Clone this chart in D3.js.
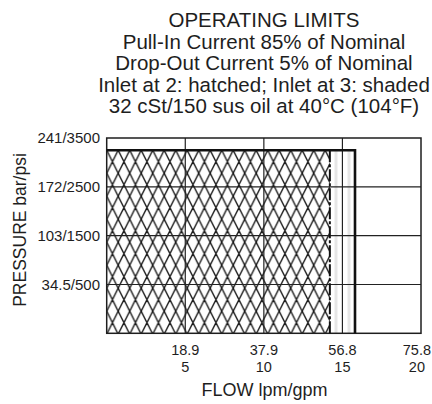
<!DOCTYPE html>
<html>
<head>
<meta charset="utf-8">
<script src="https://cdn.jsdelivr.net/npm/d3@7"></script>
<style>
  body { margin: 0; background: #fff; }
  text { font-family: "Liberation Sans", Arial, sans-serif; fill: #1e1e1e; }
</style>
</head>
<body>
<svg id="chart" width="432" height="404"></svg>
<script>
var titleLines = [
  "OPERATING LIMITS",
  "Pull-In Current 85% of Nominal",
  "Drop-Out Current 5% of Nominal",
  "Inlet at 2: hatched; Inlet at 3: shaded",
  "32 cSt/150 sus oil at 40\u00B0C (104\u00B0F)"
];

// flow axis, gpm with lpm label above
var flowTicksGpm = [5, 10, 15, 20];
var flowTicksLpm = ["18.9", "37.9", "56.8", "75.8"];

// pressure axis, psi with bar label in front
var pressTicksPsi = [500, 1500, 2500, 3500];
var pressTicksBar = ["34.5", "103", "172", "241"];

// operating envelopes: [max flow gpm, max pressure psi]
var inlet2Limit = [14.2, 3250];   // hatched
var inlet3Limit = [15.8, 3250];   // shaded

var svg = d3.select('#chart');
var W = 432;

var plot = { left: 106.7, right: 421, top: 138, bottom: 333.3 };

var x = d3.scaleLinear().domain([0, 20]).range([plot.left, plot.right]);
// the original chart leaves one full division under the 500 psi line
var y = d3.scaleLinear().domain([-500, 3500]).range([plot.bottom, plot.top]);

var defs = svg.append('defs');

// crosshatch used for inlet at 2
var hw = 11.5, hh = 23;
var hatch = defs.append('pattern')
    .attr('id', 'hatch')
    .attr('patternUnits', 'userSpaceOnUse')
    .attr('x', plot.left).attr('y', y(inlet2Limit[1]))
    .attr('width', hw).attr('height', hh);
hatch.append('rect').attr('width', hw).attr('height', hh).attr('fill', '#fff');
var hp = '';
[-1, 0, 1].forEach(function(i) {
  [-1, 0, 1].forEach(function(j) {
    var ox = i * hw, oy = j * hh;
    hp += 'M' + ox + ',' + oy + 'L' + (ox + hw) + ',' + (oy + hh);
    hp += 'M' + (ox + hw) + ',' + oy + 'L' + ox + ',' + (oy + hh);
  });
});
hatch.append('path').attr('d', hp)
    .attr('stroke', '#1a1a1a').attr('stroke-width', 1.4).attr('fill', 'none');

// faint vertical stripes used for inlet at 3
var stripes = defs.append('pattern')
    .attr('id', 'stripes')
    .attr('patternUnits', 'userSpaceOnUse')
    .attr('x', 334.5).attr('y', 0)
    .attr('width', 13).attr('height', 10);
stripes.append('rect').attr('width', 13).attr('height', 10).attr('fill', '#fff');
stripes.append('rect').attr('width', 3).attr('height', 10).attr('fill', '#e6e6e6');

// shaded envelope first, hatched on top of it
svg.append('rect')
    .attr('x', x(0)).attr('y', y(inlet3Limit[1]))
    .attr('width', x(inlet3Limit[0]) - x(0))
    .attr('height', y(-500) - y(inlet3Limit[1]))
    .attr('fill', 'url(#stripes)');

svg.append('rect')
    .attr('x', x(0)).attr('y', y(inlet2Limit[1]))
    .attr('width', x(inlet2Limit[0]) - x(0))
    .attr('height', y(-500) - y(inlet2Limit[1]))
    .attr('fill', 'url(#hatch)');

// grid
svg.selectAll('line.vgrid')
    .data(flowTicksGpm.slice(0, -1))
  .enter().append('line')
    .attr('class', 'vgrid')
    .attr('x1', function(d) { return x(d); }).attr('x2', function(d) { return x(d); })
    .attr('y1', plot.top).attr('y2', plot.bottom)
    .attr('stroke', '#222').attr('stroke-width', 1.2);

svg.selectAll('line.hgrid')
    .data(pressTicksPsi.slice(0, -1))
  .enter().append('line')
    .attr('class', 'hgrid')
    .attr('x1', plot.left).attr('x2', plot.right)
    .attr('y1', function(d) { return y(d); }).attr('y2', function(d) { return y(d); })
    .attr('stroke', '#222').attr('stroke-width', 1.2);

// frame
svg.append('rect')
    .attr('x', plot.left).attr('y', plot.top)
    .attr('width', plot.right - plot.left).attr('height', plot.bottom - plot.top)
    .attr('fill', 'none').attr('stroke', '#1e1e1e').attr('stroke-width', 1.5);

// inlet 2 right edge (broken line)
svg.append('line')
    .attr('x1', x(inlet2Limit[0])).attr('x2', x(inlet2Limit[0]))
    .attr('y1', y(inlet2Limit[1])).attr('y2', plot.bottom)
    .attr('stroke', '#111').attr('stroke-width', 2)
    .attr('stroke-dasharray', '12,2,3,2');

// inlet 3 outline (heavy)
svg.append('path')
    .attr('d', 'M' + x(0) + ',' + y(inlet3Limit[1]) +
               'H' + x(inlet3Limit[0]) +
               'V' + plot.bottom)
    .attr('fill', 'none').attr('stroke', '#111').attr('stroke-width', 2.6);

// y tick labels
svg.selectAll('text.ytick')
    .data(pressTicksPsi)
  .enter().append('text')
    .attr('class', 'ytick')
    .attr('x', 100)
    .attr('y', function(d) { return y(d); })
    .attr('dy', '0.36em')
    .attr('text-anchor', 'end')
    .style('font-size', '15px')
    .text(function(d, i) { return pressTicksBar[i] + '/' + d; });

// x tick labels, lpm over gpm; keep the last one inside the page
var xt = svg.selectAll('g.xtick')
    .data(flowTicksGpm)
  .enter().append('g')
    .attr('class', 'xtick');
xt.append('text')
    .attr('y', 354.5).attr('text-anchor', 'middle')
    .style('font-size', '14.5px')
    .text(function(d, i) { return flowTicksLpm[i]; });
xt.append('text')
    .attr('y', 372).attr('text-anchor', 'middle')
    .style('font-size', '14.5px')
    .text(function(d) { return d; });
xt.attr('transform', function(d) {
  var half = d3.select(this).select('text').node().getComputedTextLength() / 2;
  var cx = Math.min(x(d), W - 1 - half);
  return 'translate(' + cx + ',0)';
});

// axis titles
svg.append('text')
    .attr('transform', 'translate(26,230) rotate(-90)')
    .attr('text-anchor', 'middle')
    .style('font-size', '17.5px')
    .text('PRESSURE bar/psi');

svg.append('text')
    .attr('x', 264.5).attr('y', 395.7)
    .attr('text-anchor', 'middle')
    .style('font-size', '18px')
    .text('FLOW lpm/gpm');

// title block
svg.selectAll('text.title')
    .data(titleLines)
  .enter().append('text')
    .attr('class', 'title')
    .attr('x', 264)
    .attr('y', function(d, i) { return 27 + i * 21.5; })
    .attr('text-anchor', 'middle')
    .style('font-size', '20.5px')
    .text(function(d) { return d; });
</script>
</body>
</html>
